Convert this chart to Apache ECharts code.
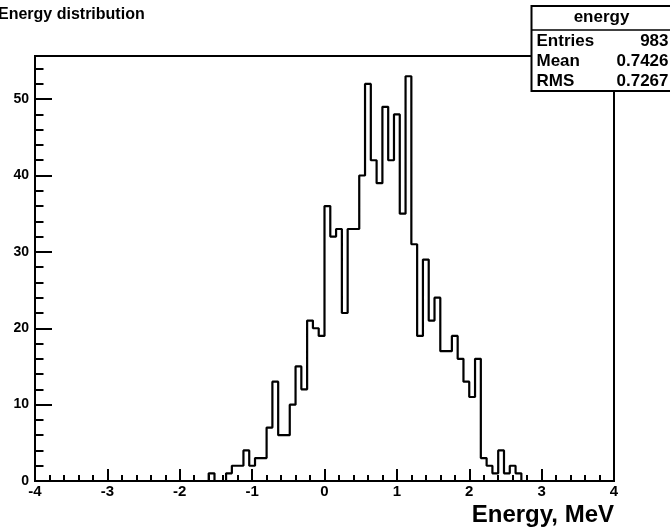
<!DOCTYPE html>
<html>
<head>
<meta charset="utf-8">
<script src="https://cdn.jsdelivr.net/npm/echarts@6/dist/echarts.min.js"></script>
<style>
html,body{margin:0;padding:0;background:#fff;}
#chart{width:670px;height:532px;}
</style>
</head>
<body>
<div id="chart"></div>
<script>
// ---- data ----
const histTitle = 'Energy distribution';
const xAxisTitle = 'Energy, MeV';
const histName = 'energy';
const statLabels = ['Entries', 'Mean', 'RMS'];
const statValues = ['983', '0.7426', '0.7267'];
const xMin = -4;
const xMax = 4;
const binWidth = 0.08;
const yMax = 55.65;
// counts per bin (100 bins of width 0.08 from -4 to 4)
const counts = [
  0,0,0,0,0,0,0,0,0,0,
  0,0,0,0,0,0,0,0,0,0,
  0,0,0,0,0,0,0,0,0,0,
  1,0,0,1,2,2,4,2,3,3,
  7,13,6,6,10,15,12,21,20,19,
  36,32,33,22,33,33,40,52,42,39,
  49,42,48,35,53,31,19,29,21,24,
  17,17,19,16,13,11,16,3,2,1,
  4,1,2,1,0,0,0,0,0,0,
  0,0,0,0,0,0,0,0,0,0
];
const xMajorTicks = [-4,-3,-2,-1,0,1,2,3,4];
const yMajorTicks = [0,10,20,30,40,50];

// ---- build step outline ----
const stepData = [];
counts.forEach(function(c, i){
  const lo = +(xMin + i*binWidth).toFixed(4);
  const hi = +(xMin + (i+1)*binWidth).toFixed(4);
  stepData.push([lo, c]);
  stepData.push([hi, c]);
});

const FONT = '"Liberation Sans", Arial, Helvetica, sans-serif';
const chart = echarts.init(document.getElementById('chart'), null, {renderer:'canvas'});

const gridL = 35, gridT = 56, gridW = 579, gridH = 425;

const option = {
  animation: false,
  backgroundColor: '#fff',
  grid: {left: gridL, top: gridT, width: gridW, height: gridH, show: true,
         borderColor: '#000', borderWidth: 2, backgroundColor: 'transparent', containLabel: false},
  xAxis: [
    {type:'value', min:xMin, max:xMax, interval:1, position:'bottom',
     axisLine:{show:false, onZero:false}, splitLine:{show:false},
     axisTick:{show:true, inside:true, length:12, lineStyle:{color:'#000', width:2}},
     axisLabel:{show:true, color:'#000', fontFamily:FONT, fontWeight:'bold', fontSize:15, margin:3,
                showMinLabel:true, showMaxLabel:true,
                formatter:function(v){ return xMajorTicks.indexOf(Math.round(v))>=0 && Math.abs(v-Math.round(v))<1e-6 ? String(Math.round(v)) : ''; }}},
    {type:'value', min:xMin, max:xMax, interval:0.2, position:'bottom', offset:0,
     axisLine:{show:false, onZero:false}, splitLine:{show:false}, axisLabel:{show:false},
     axisTick:{show:true, inside:true, length:6, lineStyle:{color:'#000', width:2}}}
  ],
  yAxis: [
    {type:'value', min:0, max:yMax, interval:10, position:'left',
     axisLine:{show:false, onZero:false}, splitLine:{show:false},
     axisTick:{show:true, inside:true, length:17, lineStyle:{color:'#000', width:2}},
     axisLabel:{show:true, color:'#000', fontFamily:FONT, fontWeight:'bold', fontSize:14, margin:6,
                formatter:function(v){ return yMajorTicks.indexOf(v)>=0 ? String(v) : ''; }}},
    {type:'value', min:0, max:yMax, interval:2, position:'left', offset:0,
     axisLine:{show:false, onZero:false}, splitLine:{show:false}, axisLabel:{show:false},
     axisTick:{show:true, inside:true, length:8.5, lineStyle:{color:'#000', width:2}}}
  ],
  series: [{
    type:'line', xAxisIndex:0, yAxisIndex:0, data: stepData,
    symbol:'none', showSymbol:false, clip:true,
    lineStyle:{color:'#000', width:2.2}, z:5
  }],
  graphic: [
    {type:'text', left:-2, top:7, style:{text:histTitle, fill:'#000', font:'bold 16px '+FONT}},
    {type:'text', right:670-614, top:503, style:{text:xAxisTitle, fill:'#000', font:'bold 24px '+FONT, textAlign:'right'}},
    {type:'group', left:529, top:5, z:100, children:[
      {type:'rect', shape:{x:0, y:0, width:140, height:85}, style:{fill:'#fff', stroke:'#000', lineWidth:2}},
      {type:'line', shape:{x1:0, y1:24, x2:140, y2:24}, style:{stroke:'#000', lineWidth:1.5}},
      {type:'text', x:70, y:11, style:{text:histName, fill:'#000', font:'bold 17px '+FONT, textAlign:'center', textVerticalAlign:'middle'}},
      {type:'text', x:5, y:35, style:{text:statLabels[0], fill:'#000', font:'bold 17px '+FONT, textVerticalAlign:'middle'}},
      {type:'text', x:137, y:35, style:{text:statValues[0], fill:'#000', font:'bold 17px '+FONT, textAlign:'right', textVerticalAlign:'middle'}},
      {type:'text', x:5, y:55, style:{text:statLabels[1], fill:'#000', font:'bold 17px '+FONT, textVerticalAlign:'middle'}},
      {type:'text', x:137, y:55, style:{text:statValues[1], fill:'#000', font:'bold 17px '+FONT, textAlign:'right', textVerticalAlign:'middle'}},
      {type:'text', x:5, y:75, style:{text:statLabels[2], fill:'#000', font:'bold 17px '+FONT, textAlign:'left', textVerticalAlign:'middle'}},
      {type:'text', x:137, y:75, style:{text:statValues[2], fill:'#000', font:'bold 17px '+FONT, textAlign:'right', textVerticalAlign:'middle'}}
    ]}
  ]
};
chart.setOption(option);
</script>
</body>
</html>
